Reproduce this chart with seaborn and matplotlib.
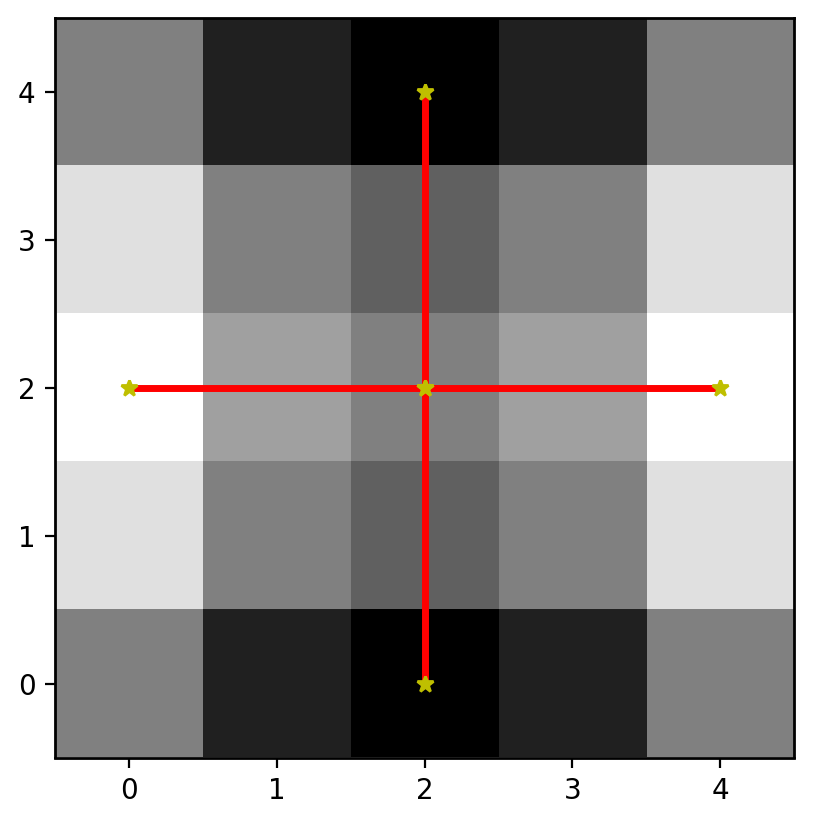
import numpy as np
import pandas as pd
import matplotlib
matplotlib.use("Agg")
import matplotlib.pyplot as plt
import seaborn as sns

sns.set_style("ticks")
plt.rcParams["font.family"] = ["DejaVu Sans"]

# grid values (row 0 = bottom)
grid_rows = [
    [0, -3, -4, -3, 0],
    [3, 0, -1, 0, 3],
    [4, 1, 0, 1, 4],
    [3, 0, -1, 0, 3],
    [0, -3, -4, -3, 0],
]

# cross lines
h_x = [0, 2, 4]
h_y = [2, 2, 2]
v_x = [2, 2, 2]
v_y = [0, 2, 4]

grid = np.array(grid_rows, dtype=float)

fig = plt.figure(figsize=(813 / 200, 822 / 200), dpi=200)
ax = fig.add_axes([55 / 813, 1 - 758 / 822, (794 - 55) / 813, (758 - 18) / 822])
ax.imshow(grid, cmap="gray", origin="lower", vmin=-4, vmax=4)

h_df = pd.DataFrame({"x": h_x, "y": h_y})
v_df = pd.DataFrame({"x": v_x, "y": v_y})
for d in (h_df, v_df):
    sns.lineplot(data=d, x="x", y="y", color="red", lw=2.5, sort=False,
                 estimator=None, errorbar=None, ax=ax)
for d in (h_df, v_df):
    ax.plot(d["x"], d["y"], "y*", markersize=6)

ax.set_xlim(-0.5, 4.5)
ax.set_ylim(-0.5, 4.5)
ax.set_xticks(range(5))
ax.set_yticks(range(5))
ax.set_xlabel("")
ax.set_ylabel("")
for s in ax.spines.values():
    s.set_visible(True)
    s.set_color("black")
    s.set_linewidth(1.0)
ax.tick_params(colors="black", labelsize=10, length=3.5, width=0.8)

fig.savefig("out.png", dpi=200)
